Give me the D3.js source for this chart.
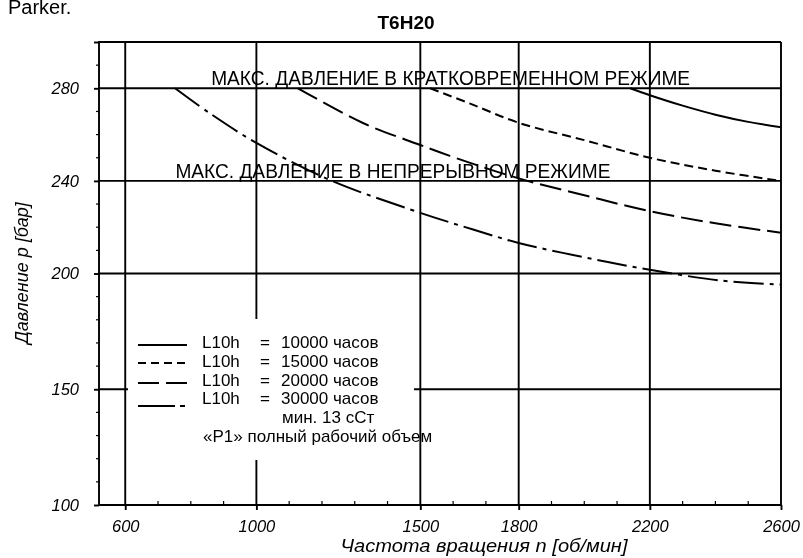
<!DOCTYPE html>
<html><head><meta charset="utf-8">
<script src="https://cdn.jsdelivr.net/npm/d3@7"></script>
<style>
html,body{margin:0;padding:0;background:#fff;}
svg{display:block;font-family:"Liberation Sans",Arial,sans-serif;will-change:transform;transform:translateZ(0);}
</style></head>
<body><svg id="c" width="803" height="558"></svg>
<script>
// ---- data ----
const titleText = "T6H20";
const brandText = "Parker.";
const xTicks = [600, 1000, 1500, 1800, 2200, 2600];
const yTicks = [100, 150, 200, 240, 280, 300];
const yTickLabels = ["100", "150", "200", "240", "280", ""];
const xGrid = [600, 1000, 1500, 1800, 2200];
const yGrid = [150, 200, 240, 280];

const rpm10000 = [2140, 2200, 2300, 2400, 2500, 2600];
const p10000   = [280, 277.0, 272.5, 268.6, 265.5, 263.2];
const rpm15000 = [1530, 1650, 1800, 2000, 2200, 2400, 2600];
const p15000   = [280, 273.5, 265.1, 257.6, 250.0, 244.4, 240.0];
const rpm20000 = [1127, 1325, 1500, 1590, 1800, 2000, 2200, 2400, 2600];
const p20000   = [280, 265, 255.5, 250.8, 241.1, 233.8, 226.9, 221.7, 217.6];
const rpm30000 = [752, 858, 1000, 1224, 1500, 1661, 1800, 2000, 2200, 2414, 2600];
const p30000   = [280, 269.2, 256.4, 240.4, 226.2, 219.0, 213.2, 207.0, 201.6, 197.0, 195.2];

const seriesNames = ["10000", "15000", "20000", "30000"];
const legendNotes = ["мин. 13 сСт", "«P1» полный рабочий объем"];
const limitLabels = ["МАКС. ДАВЛЕНИЕ В КРАТКОВРЕМЕННОМ РЕЖИМЕ", "МАКС. ДАВЛЕНИЕ В НЕПРЕРЫВНОМ РЕЖИМЕ"];
const limitValues = [280, 240];
const limitLabelRpm = [862, 753];
const xTitle = "Частота вращения n [об/мин]";
const yTitle = "Давление p [бар]";

// ---- layout ----
const svg = d3.select("#c");
const L = 99, R = 781, T = 42, B = 505;
const x = d3.scaleLinear().domain([520, 2600]).range([L, R]);
const y = d3.scaleLinear().domain([100, 300]).range([B, T]);
const SW = 1.9;
const INK = "#000";
const TICKFONT = 16.5;

const series = [
  {rpm: rpm10000, p: p10000, dash: null},
  {rpm: rpm15000, p: p15000, dash: "9,5"},
  {rpm: rpm20000, p: p20000, dash: "22,7"},
  {rpm: rpm30000, p: p30000, dash: "30,6,4,6"}
];

// brand + title
svg.append("text").attr("x", 8).attr("y", 14).attr("font-size", 20).attr("fill", INK).text(brandText);
svg.append("text").attr("x", 406).attr("y", 29).attr("text-anchor", "middle")
  .attr("font-size", 19).attr("font-weight", "bold").attr("fill", INK).text(titleText);

// grid
const g = svg.append("g").attr("stroke", INK).attr("stroke-width", SW);
g.selectAll("line.vx").data(xGrid).join("line")
  .attr("x1", d => x(d)).attr("x2", d => x(d)).attr("y1", T).attr("y2", B);
g.selectAll("line.hy").data(yGrid).join("line")
  .attr("x1", L).attr("x2", R).attr("y1", d => y(d)).attr("y2", d => y(d));
g.append("line").attr("x1", L).attr("x2", R).attr("y1", T).attr("y2", T);
g.append("line").attr("x1", R).attr("x2", R).attr("y1", T).attr("y2", B);

// minor ticks
const xMinor = d3.range(600, 2600, 100).filter(v => !xTicks.includes(v));
g.selectAll("line.mx").data(xMinor).join("line").attr("stroke-width", 1.2)
  .attr("x1", d => x(d)).attr("x2", d => x(d)).attr("y1", B).attr("y2", B - 4);
const yMinor = d3.range(110, 300, 10).filter(v => !yTicks.includes(v));
g.selectAll("line.my").data(yMinor).join("line").attr("stroke-width", 1.2)
  .attr("x1", L - 3).attr("x2", L).attr("y1", d => y(d)).attr("y2", d => y(d));

// axes
const xAxis = d3.axisBottom(x).tickValues(xTicks).tickSize(5).tickSizeOuter(0).tickPadding(10).tickFormat(d3.format("d"));
const ax = svg.append("g").attr("transform", `translate(0,${B})`).call(xAxis);
ax.select(".domain").attr("stroke", INK).attr("stroke-width", SW).attr("d", `M${L},0H${R}`);
ax.selectAll(".tick line").attr("stroke", INK).attr("stroke-width", SW);
ax.selectAll(".tick text").attr("font-size", TICKFONT).attr("font-style", "italic")
  .attr("font-family", "'Liberation Sans',Arial,sans-serif").attr("fill", INK);

const yAxis = d3.axisLeft(y).tickValues(yTicks).tickSize(5).tickSizeOuter(0).tickPadding(15)
  .tickFormat((d, i) => yTickLabels[i]);
const ay = svg.append("g").attr("transform", `translate(${L},0)`).call(yAxis);
ay.select(".domain").attr("stroke", INK).attr("stroke-width", SW).attr("d", `M0,${T - 1}V${B + 1}`);
ay.selectAll(".tick line").attr("stroke", INK).attr("stroke-width", SW);
ay.selectAll(".tick text").attr("font-size", TICKFONT).attr("font-style", "italic")
  .attr("font-family", "'Liberation Sans',Arial,sans-serif").attr("fill", INK);

// legend white box
svg.append("rect").attr("x", 128).attr("y", 319).attr("width", 286).attr("height", 141).attr("fill", "#fff");

// limit labels
svg.selectAll("text.lim").data(limitLabels).join("text")
  .attr("x", (d, i) => x(limitLabelRpm[i]))
  .attr("y", (d, i) => y(limitValues[i]) - 3)
  .attr("font-size", 20).attr("fill", INK)
  .attr("textLength", (d, i) => [479, 435][i]).attr("lengthAdjust", "spacingAndGlyphs")
  .text(d => d);

// curves
const line = d3.line().x(d => x(d[0])).y(d => y(d[1])).curve(d3.curveCatmullRom.alpha(0.5));
svg.selectAll("path.curve").data(series).join("path")
  .attr("d", s => line(s.rpm.map((r, i) => [r, s.p[i]])))
  .attr("fill", "none").attr("stroke", INK).attr("stroke-width", 2)
  .attr("stroke-dasharray", s => s.dash);

// legend
const legX1 = 138, legX2 = 187;
const legBase = [348, 367, 385.5, 404];
const legLineY = [345, 363, 383, 406];
const legDash = [null, "8,5", "21,7", "37,5,5,50"];
const lg = svg.append("g");
lg.selectAll("line").data(series).join("line")
  .attr("x1", legX1).attr("x2", legX2)
  .attr("y1", (d, i) => legLineY[i]).attr("y2", (d, i) => legLineY[i])
  .attr("stroke", INK).attr("stroke-width", 2)
  .attr("stroke-dasharray", (d, i) => legDash[i]);
const tfont = 17;
seriesNames.forEach((n, i) => {
  lg.append("text").attr("x", 202).attr("y", legBase[i]).attr("font-size", tfont).attr("fill", INK).text("L10h");
  lg.append("text").attr("x", 260).attr("y", legBase[i]).attr("font-size", tfont).attr("fill", INK).text("=");
  lg.append("text").attr("x", 281).attr("y", legBase[i]).attr("font-size", tfont).attr("fill", INK).text(n + " часов");
});
lg.append("text").attr("x", 282).attr("y", 423).attr("font-size", tfont).attr("fill", INK).text(legendNotes[0]);
lg.append("text").attr("x", 203).attr("y", 441.5).attr("font-size", tfont).attr("fill", INK).text(legendNotes[1]);

// axis titles
svg.append("text").attr("x", 484).attr("y", 552).attr("text-anchor", "middle")
  .attr("font-size", 18).attr("font-style", "italic").attr("fill", INK)
  .attr("textLength", 287).attr("lengthAdjust", "spacingAndGlyphs").text(xTitle);
svg.append("text").attr("transform", "translate(28,273) rotate(-90)").attr("text-anchor", "middle")
  .attr("font-size", 18).attr("font-style", "italic").attr("fill", INK).text(yTitle);
</script></body></html>
